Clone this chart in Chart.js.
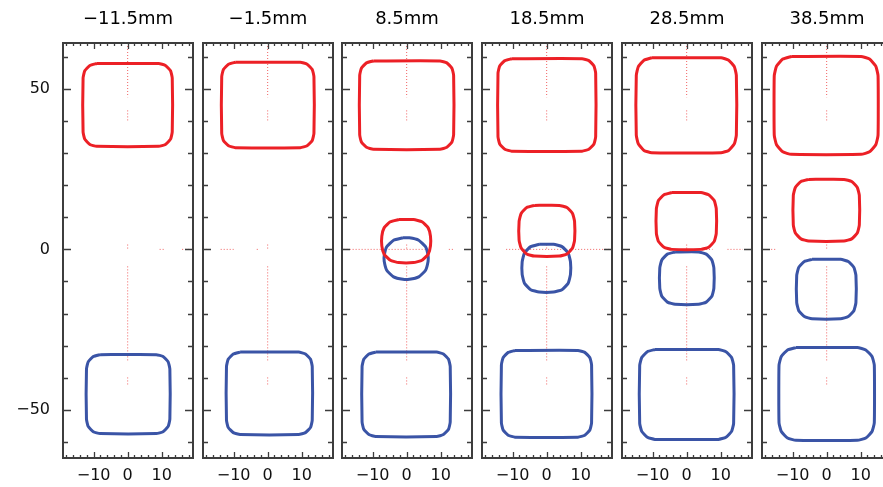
<!DOCTYPE html>
<html>
<head>
<meta charset="utf-8">
<script src="https://cdn.jsdelivr.net/npm/chart.js@4.4.1/dist/chart.umd.min.js"></script>
<style>
    html, body { margin: 0; padding: 0; background: #fff; }
    body { width: 883px; height: 487px; overflow: hidden; position: relative; }
    canvas { position: absolute; top: 0; }
</style>
</head>
<body>
<canvas id="p0" width="198" height="487" style="left:0px"></canvas>
<canvas id="p1" width="140" height="487" style="left:198px"></canvas>
<canvas id="p2" width="140" height="487" style="left:337px"></canvas>
<canvas id="p3" width="140" height="487" style="left:477px"></canvas>
<canvas id="p4" width="140" height="487" style="left:617px"></canvas>
<canvas id="p5" width="140" height="487" style="left:757px"></canvas>
<script>
const panelTitles = ['\u221211.5mm', '\u22121.5mm', '8.5mm', '18.5mm', '28.5mm', '38.5mm'];
const xTickLabels = [-10, 0, 10];
const yTickLabels = [-50, 0, 50];
const xMinorTicks = [-18, -16, -14, -12, -10, -8, -6, -4, -2, 0, 2, 4, 6, 8, 10, 12, 14, 16, 18];
const yMinorTicks = [-60, -50, -40, -30, -20, -10, 0, 10, 20, 30, 40, 50, 60];

// red contour near y=45, one per panel
const redOuter = [
    [[-9.1,57.9],[9.1,57.9],[11.1,57.3],[12.6,55.65],[13.1,53.4],[13.1,36.6],[12.6,34.35],[11.1,32.7],[9.1,32.1],[-9.1,32.1],[-11.1,32.7],[-12.6,34.35],[-13.1,36.6],[-13.1,53.4],[-12.6,55.65],[-11.1,57.3]],
    [[-9.5,58.3],[9.6,58.3],[11.6,57.7],[13.1,56.05],[13.6,53.8],[13.6,36.2],[13.1,33.95],[11.6,32.3],[9.6,31.7],[-9.5,31.7],[-11.5,32.3],[-13.0,33.95],[-13.5,36.2],[-13.5,53.8],[-13.0,56.05],[-11.5,57.7]],
    [[-9.8,58.7],[9.8,58.7],[11.8,58.1],[13.3,56.45],[13.8,54.2],[13.8,35.7],[13.3,33.45],[11.8,31.8],[9.8,31.2],[-9.8,31.2],[-11.8,31.8],[-13.3,33.45],[-13.8,35.7],[-13.8,54.2],[-13.3,56.45],[-11.8,58.1]],
    [[-10.3,59.4],[10.4,59.4],[12.4,58.8],[13.9,57.15],[14.4,54.9],[14.4,35.1],[13.9,32.85],[12.4,31.2],[10.4,30.6],[-10.3,30.6],[-12.3,31.2],[-13.8,32.85],[-14.3,35.1],[-14.3,54.9],[-13.8,57.15],[-12.3,58.8]],
    [[-10.3,59.7],[10.1,59.7],[12.35,58.96],[14.0,56.95],[14.6,54.2],[14.6,35.6],[14.0,32.85],[12.35,30.84],[10.1,30.1],[-10.3,30.1],[-12.55,30.84],[-14.2,32.85],[-14.8,35.6],[-14.8,54.2],[-14.2,56.95],[-12.55,58.96]],
    [[-10.4,60.1],[10.1,60.1],[12.6,59.3],[14.43,57.1],[15.1,54.1],[15.1,35.6],[14.43,32.6],[12.6,30.4],[10.1,29.6],[-10.4,29.6],[-12.9,30.4],[-14.73,32.6],[-15.4,35.6],[-15.4,54.1],[-14.73,57.1],[-12.9,59.3]]
];

// red contour near the centre (only from 8.5mm on)
const redInner = [
    null,
    null,
    [[-2.3,9.3],[2.0,9.3],[4.5,8.6],[6.33,6.7],[7.0,4.1],[7.0,1.1],[6.33,-1.5],[4.5,-3.4],[2.0,-4.1],[-2.3,-4.1],[-4.8,-3.4],[-6.63,-1.5],[-7.3,1.1],[-7.3,4.1],[-6.63,6.7],[-4.8,8.6]],
    [[-3.6,13.7],[3.7,13.7],[5.95,13.03],[7.6,11.2],[8.2,8.7],[8.2,2.9],[7.6,0.4],[5.95,-1.43],[3.7,-2.1],[-3.6,-2.1],[-5.85,-1.43],[-7.5,0.4],[-8.1,2.9],[-8.1,8.7],[-7.5,11.2],[-5.85,13.03]],
    [[-4.4,17.7],[4.2,17.7],[6.45,17.03],[8.1,15.2],[8.7,12.7],[8.7,5.0],[8.1,2.5],[6.45,0.67],[4.2,0.0],[-4.4,0.0],[-6.65,0.67],[-8.3,2.5],[-8.9,5.0],[-8.9,12.7],[-8.3,15.2],[-6.65,17.03]],
    [[-5.3,21.8],[5.1,21.8],[7.35,21.13],[9.0,19.3],[9.6,16.8],[9.6,7.6],[9.0,5.1],[7.35,3.27],[5.1,2.6],[-5.3,2.6],[-7.55,3.27],[-9.2,5.1],[-9.8,7.6],[-9.8,16.8],[-9.2,19.3],[-7.55,21.13]]
];

// blue contour near the centre
const blueInner = [
    null,
    null,
    [[-1.1,3.6],[0.8,3.6],[3.55,2.85],[5.56,0.8],[6.3,-2.0],[6.3,-3.7],[5.56,-6.5],[3.55,-8.55],[0.8,-9.3],[-1.1,-9.3],[-3.85,-8.55],[-5.86,-6.5],[-6.6,-3.7],[-6.6,-2.0],[-5.86,0.8],[-3.85,2.85]],
    [[-2.2,1.6],[2.0,1.6],[4.5,0.86],[6.33,-1.15],[7.0,-3.9],[7.0,-7.8],[6.33,-10.55],[4.5,-12.56],[2.0,-13.3],[-2.2,-13.3],[-4.7,-12.56],[-6.53,-10.55],[-7.2,-7.8],[-7.2,-3.9],[-6.53,-1.15],[-4.7,0.86]],
    [[-3.4,-0.8],[3.5,-0.8],[5.75,-1.47],[7.4,-3.3],[8.0,-5.8],[8.0,-12.1],[7.4,-14.6],[5.75,-16.43],[3.5,-17.1],[-3.4,-17.1],[-5.65,-16.43],[-7.3,-14.6],[-7.9,-12.1],[-7.9,-5.8],[-7.3,-3.3],[-5.65,-1.47]],
    [[-4.3,-3.1],[4.1,-3.1],[6.35,-3.77],[8.0,-5.6],[8.6,-8.1],[8.6,-16.6],[8.0,-19.1],[6.35,-20.93],[4.1,-21.6],[-4.3,-21.6],[-6.55,-20.93],[-8.2,-19.1],[-8.8,-16.6],[-8.8,-8.1],[-8.2,-5.6],[-6.55,-3.77]]
];

// blue contour near y=-45
const blueOuter = [
    [[-8.1,-32.8],[8.4,-32.8],[10.4,-33.4],[11.9,-35.05],[12.4,-37.3],[12.4,-52.9],[11.9,-55.15],[10.4,-56.8],[8.4,-57.4],[-8.1,-57.4],[-10.1,-56.8],[-11.6,-55.15],[-12.1,-52.9],[-12.1,-37.3],[-11.6,-35.05],[-10.1,-33.4]],
    [[-8.1,-32.0],[9.1,-32.0],[11.1,-32.6],[12.6,-34.25],[13.1,-36.5],[13.1,-53.2],[12.6,-55.45],[11.1,-57.1],[9.1,-57.7],[-8.1,-57.7],[-10.1,-57.1],[-11.6,-55.45],[-12.1,-53.2],[-12.1,-36.5],[-11.6,-34.25],[-10.1,-32.6]],
    [[-9.1,-32.0],[8.8,-32.0],[10.8,-32.6],[12.3,-34.25],[12.8,-36.5],[12.8,-53.8],[12.3,-56.05],[10.8,-57.7],[8.8,-58.3],[-9.1,-58.3],[-11.1,-57.7],[-12.6,-56.05],[-13.1,-53.8],[-13.1,-36.5],[-12.6,-34.25],[-11.1,-32.6]],
    [[-9.3,-31.5],[9.2,-31.5],[11.2,-32.1],[12.7,-33.75],[13.2,-36.0],[13.2,-54.0],[12.7,-56.25],[11.2,-57.9],[9.2,-58.5],[-9.3,-58.5],[-11.3,-57.9],[-12.8,-56.25],[-13.3,-54.0],[-13.3,-36.0],[-12.8,-33.75],[-11.3,-32.1]],
    [[-9.3,-31.2],[9.3,-31.2],[11.55,-31.87],[13.2,-33.7],[13.8,-36.2],[13.8,-54.2],[13.2,-56.7],[11.55,-58.53],[9.3,-59.2],[-9.3,-59.2],[-11.55,-58.53],[-13.2,-56.7],[-13.8,-54.2],[-13.8,-36.2],[-13.2,-33.7],[-11.55,-31.87]],
    [[-9.0,-30.6],[9.0,-30.6],[11.5,-31.34],[13.33,-33.35],[14.0,-36.1],[14.0,-54.0],[13.33,-56.75],[11.5,-58.76],[9.0,-59.5],[-9.0,-59.5],[-11.5,-58.76],[-13.33,-56.75],[-14.0,-54.0],[-14.0,-36.1],[-13.33,-33.35],[-11.5,-31.34]]
];

// dotted guide pieces on x=0, same in every panel
const dotVertical = [
    [[0, 64.3], [0, 47.4]],
    [[0, 43.3], [0, 39.7]],
    [[0, 1.5], [0, -0.3]],
    [[0, -5.3], [0, -34.6]],
    [[0, -39.9], [0, -42.4]]
];

// dotted guide pieces on y=0, per panel
const dotHorizontal = [
    [[[9.4, 0], [10.9, 0]], [[16, 0], [18.7, 0]]],
    [[[-19, 0], [-17.4, 0]], [[-13.8, 0], [-10, 0]], [[-3.2, 0], [-2.8, 0]]],
    [[[-19.4, 0], [7, 0]], [[12.4, 0], [14.1, 0]]],
    [[[-11.9, 0], [18.6, 0]]],
    [[[4.8, 0], [7.6, 0]], [[12, 0], [16.5, 0]]],
    [[[-16.3, 0], [-14.8, 0]]]
];

const RED = 'rgb(236, 32, 38)';
const BLUE = 'rgb(58, 84, 166)';
const DOT = 'rgba(238, 70, 70, 0.85)';
const FRAME = '#3d3d3d';

const toPoints = (pts) => pts.concat([pts[0]]).map(p => ({ x: p[0], y: p[1] }));

const contour = (pts, color) => ({
    data: toPoints(pts),
    showLine: true,
    borderColor: color,
    borderWidth: 3,
    borderJoinStyle: 'round',
    pointRadius: 0,
    tension: 0.15,
});

const dotted = (seg) => ({
    data: seg.map(p => ({ x: p[0], y: p[1] })),
    showLine: true,
    borderColor: DOT,
    borderWidth: 1,
    borderDash: [1, 2],
    pointRadius: 0,
    tension: 0,
});

const fmt = (v) => v < 0 ? '\u2212' + Math.abs(v) : String(v);

// frame and inward tick marks on all four sides
const framePlugin = {
    id: 'frame',
    afterDatasetsDraw(chart) {
        const { ctx, chartArea: a, scales } = chart;
        ctx.save();
        ctx.strokeStyle = FRAME;
        ctx.lineWidth = 1.3;
        ctx.beginPath();
        xMinorTicks.forEach(v => {
            const px = Math.round(scales.x.getPixelForValue(v)) + 0.5;
            const len = v % 10 === 0 ? 6 : 3;
            ctx.moveTo(px, a.top); ctx.lineTo(px, a.top + len);
            ctx.moveTo(px, a.bottom); ctx.lineTo(px, a.bottom - len);
        });
        yMinorTicks.forEach(v => {
            const py = Math.round(scales.y.getPixelForValue(v)) + 0.5;
            const len = yTickLabels.includes(v) ? 8 : 5;
            ctx.moveTo(a.left, py); ctx.lineTo(a.left + len, py);
            ctx.moveTo(a.right, py); ctx.lineTo(a.right - len, py);
        });
        ctx.stroke();
        ctx.lineWidth = 2;
        ctx.strokeRect(a.left, a.top, a.right - a.left, a.bottom - a.top);
        ctx.restore();
    }
};

const renderPanel = (i) => {
    const datasets = [];
    datasets.push(contour(redOuter[i], RED));
    if (redInner[i]) datasets.push(contour(redInner[i], RED));
    if (blueInner[i]) datasets.push(contour(blueInner[i], BLUE));
    datasets.push(contour(blueOuter[i], BLUE));
    dotVertical.forEach(s => datasets.push(dotted(s)));
    dotHorizontal[i].forEach(s => datasets.push(dotted(s)));

    const first = i === 0;
    new Chart(document.getElementById('p' + i), {
        type: 'scatter',
        data: { datasets: datasets },
        plugins: [framePlugin],
        options: {
            responsive: false,
            animation: false,
            devicePixelRatio: 1,
            layout: { padding: { left: first ? 0 : 5, right: 5, top: 0, bottom: 0 } },
            plugins: {
                legend: { display: false },
                tooltip: { enabled: false },
                title: {
                    display: true,
                    text: panelTitles[i],
                    fullSize: false,
                    color: '#000',
                    font: { family: 'DejaVu Sans', size: 18, weight: 'normal', lineHeight: 1.2 },
                    padding: { top: 9, bottom: 12.4 },
                },
            },
            scales: {
                x: {
                    type: 'linear',
                    min: -19,
                    max: 19.2,
                    grid: { display: false, drawTicks: false, tickLength: 0 },
                    border: { display: false },
                    afterBuildTicks: (scale) => { scale.ticks = xTickLabels.map(v => ({ value: v })); },
                    afterFit: (scale) => { scale.height = 29; },
                    ticks: {
                        padding: 8,
                        color: '#111',
                        maxRotation: 0,
                        autoSkip: false,
                        font: { family: 'DejaVu Sans', size: 16 },
                        callback: (v) => fmt(v),
                    },
                },
                y: {
                    type: 'linear',
                    min: -65,
                    max: 64.3,
                    display: first,
                    grid: { display: false, drawTicks: false, tickLength: 0 },
                    border: { display: false },
                    afterBuildTicks: (scale) => { scale.ticks = yTickLabels.map(v => ({ value: v })); },
                    afterFit: (scale) => { scale.width = first ? 63 : 0; },
                    ticks: {
                        padding: 13,
                        color: '#111',
                        font: { family: 'DejaVu Sans', size: 16 },
                        callback: (v) => fmt(v),
                    },
                },
            },
        },
    });
};

document.addEventListener('DOMContentLoaded', () => {
    for (let i = 0; i < panelTitles.length; i++) renderPanel(i);
});
</script>
</body>
</html>
